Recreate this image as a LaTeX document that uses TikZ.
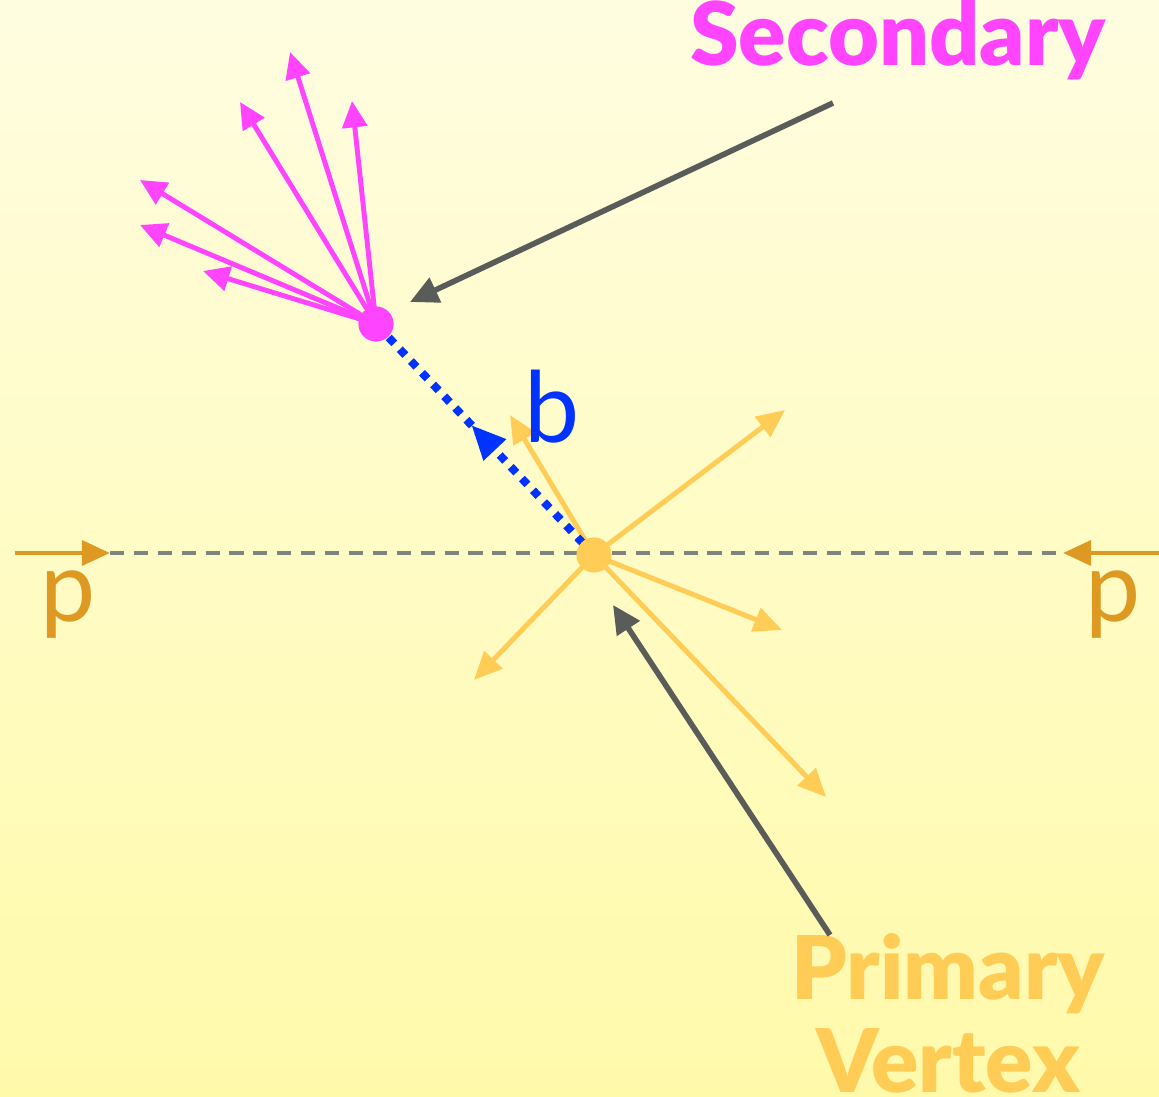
\documentclass[tikz,border=0pt]{standalone}
\usepackage{fontspec}
\setsansfont{Lato}[BoldFont={Lato Black}]
\usetikzlibrary{
    arrows.meta,
    positioning,
    calc,
    decorations.markings
}
\definecolor{bgTop}{RGB}{255,253,224}
\definecolor{bgBottom}{RGB}{255,250,170}
\definecolor{primCol}{RGB}{255,204,85}
\definecolor{secCol}{RGB}{255,68,255}
\definecolor{beamCol}{RGB}{221,153,34}
\definecolor{bCol}{RGB}{0,51,255}
\definecolor{pointCol}{RGB}{90,92,90}
\definecolor{axisCol}{RGB}{128,132,128}
\tikzset{
    % --- Vertex blob ---
    vertex/.style = {
        circle, inner sep=0pt, minimum size=#1
    },
    % --- Outgoing track (primary) ---
    prim track/.style = {
        primCol, line width=1.4pt,
        -{Triangle[length=8pt, width=7pt]}
    },
    % --- Outgoing track (secondary) ---
    sec track/.style = {
        secCol, line width=1.4pt,
        -{Triangle[length=7.5pt, width=7pt]}
    },
    % --- Incoming beam proton ---
    beam/.style = {
        beamCol, line width=1.4pt,
        -{Triangle[length=8pt, width=7pt]}
    },
    % --- Beam axis ---
    axis/.style = {
        axisCol, line width=1.4pt, dash pattern=on 4pt off 2.8pt
    },
    % --- Pointer from a label ---
    pointer/.style = {
        pointCol, line width=1.6pt,
        -{Triangle[length=8pt, width=7.5pt]}
    },
    % --- b flight path ---
    bflight/.style = {
        bCol, line width=2.3pt, dash pattern=on 2.3pt off 2.3pt,
        postaction={decorate},
        decoration={markings,
            mark=at position 0.56 with {\arrow[bCol, line width=0pt]{Triangle[length=9.5pt, width=9pt]}}}
    },
    % --- Big labels ---
    big label/.style = {
        font=\sffamily\bfseries\fontsize{25}{26.5}\selectfont,
        inner sep=0pt, align=center
    },
    letter/.style = {
        font=\sffamily\fontsize{28}{30}\selectfont, inner sep=0pt
    }
}

\begin{document}
\begin{tikzpicture}[x=0.1mm, y=-0.1mm]

% ---------------------------------------------------------
% Background
% ---------------------------------------------------------
\shade[top color=bgTop, bottom color=bgBottom] (0,0) rectangle (1159,1097);
\useasboundingbox (0,0) rectangle (1159,1097);

% ---------------------------------------------------------
% Vertices
% ---------------------------------------------------------
\coordinate (PV) at (594,555);
\coordinate (SV) at (376,324);

% beam axis
\coordinate (axisL) at (110,553);
\coordinate (axisR) at (1063,553);
\draw[axis] (axisL) -- (axisR);

% incoming protons
\coordinate (pinL) at (15,553);
\coordinate (pinR) at (1159,553);
\draw[beam] (pinL) -- (axisL);
\draw[beam] (pinR) -- (axisR);
\node[letter, text=beamCol] (pL) at (68,605) {p};
\node[letter, text=beamCol] (pR) at (1113,605) {p};

% ---------------------------------------------------------
% Primary tracks
% ---------------------------------------------------------
\foreach \name/\x/\y in {t1/510/415, t2/785/410, t3/782/630, t4/826/797, t5/474/680} {
    \coordinate (\name) at (\x,\y);
    \draw[prim track] (PV) -- (\name);
}

% ---------------------------------------------------------
% Secondary tracks
% ---------------------------------------------------------
\foreach \name/\x/\y in {s1/290/52, s2/240/102, s3/352/101, s4/140/180, s5/140/225, s6/203/271} {
    \coordinate (\name) at (\x,\y);
    \draw[sec track] (SV) -- (\name);
}

% b flight path
\draw[bflight] (PV) -- (SV);
\node[letter, text=bCol] (bLab) at (552,407) {b};

\node[vertex=10pt, fill=secCol] (SVdot) at (SV) {};
\node[vertex=10pt, fill=primCol] (PVdot) at (PV) {};

% ---------------------------------------------------------
% Labels and pointers
% ---------------------------------------------------------
\node[big label, text=secCol, anchor=base] (secLab) at (898,66) {Secondary};
\coordinate (secTail) at (833,103);
\coordinate (secTip) at (410,302);
\draw[pointer] (secTail) -- (secTip);

\node[big label, text=primCol, anchor=base] (primLab) at (948,1093) {Primary\\[0pt]Vertex};
\coordinate (primTail) at (830,935);
\coordinate (primTip) at (613,605);
\draw[pointer] (primTail) -- (primTip);

\end{tikzpicture}
\end{document}
